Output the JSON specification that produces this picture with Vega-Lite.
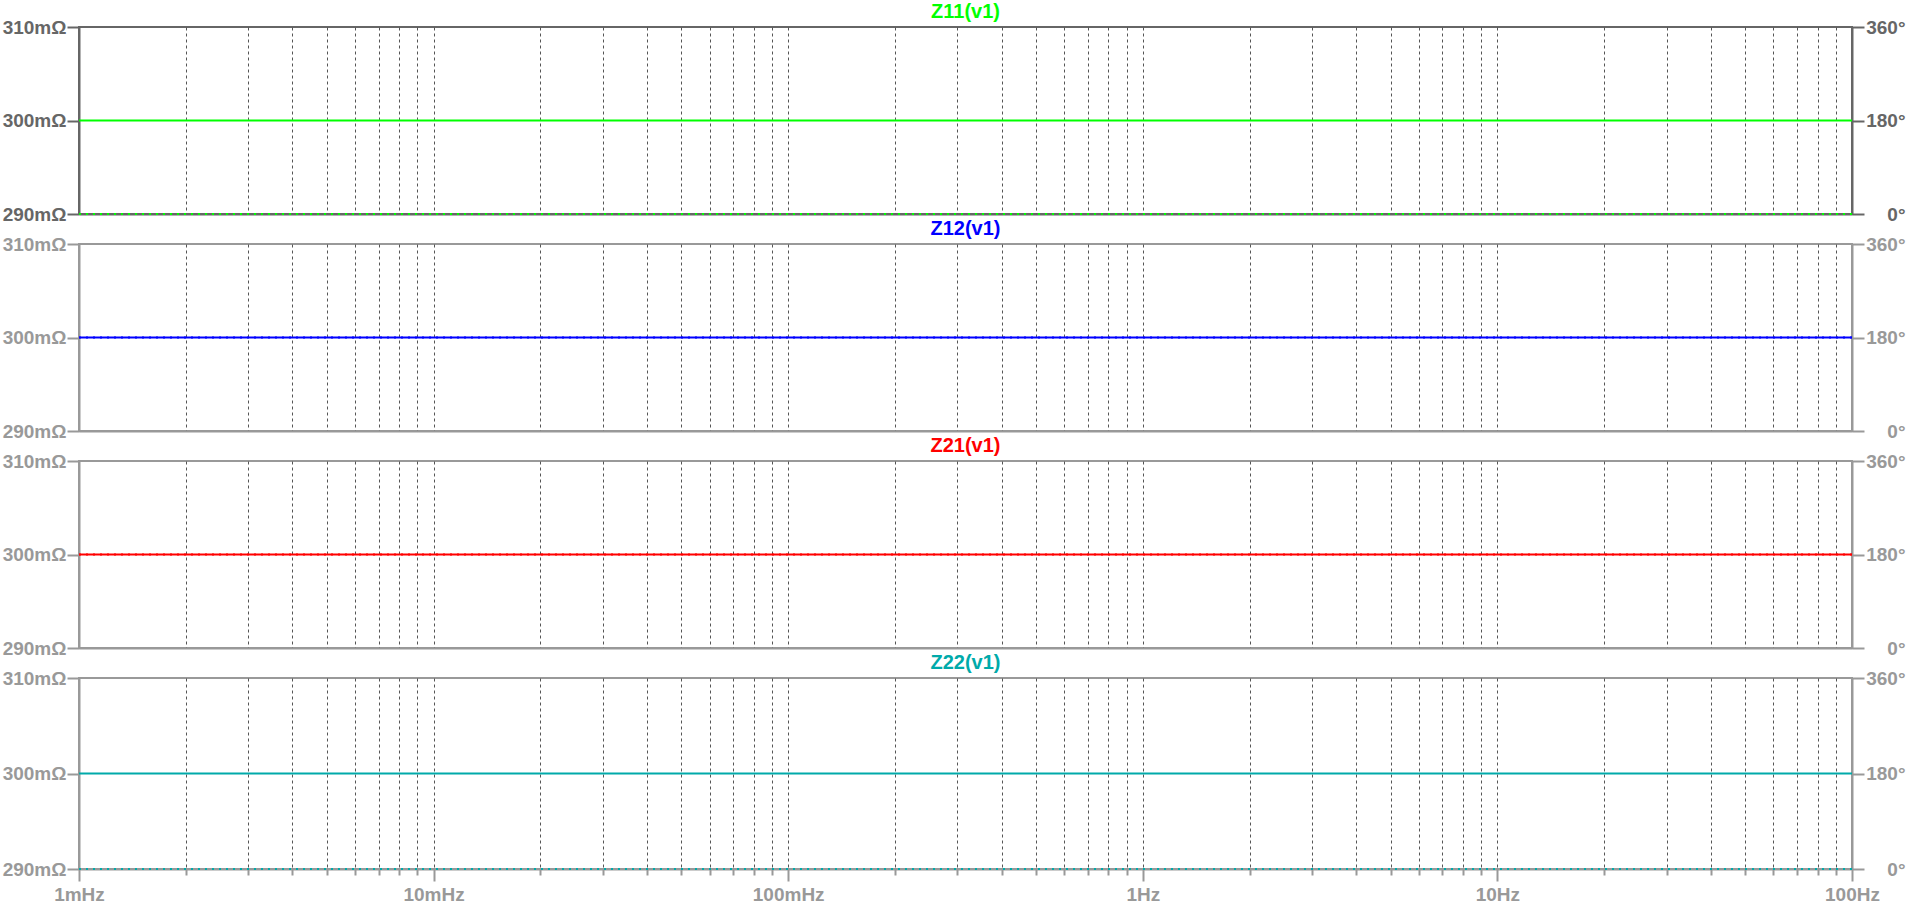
{
  "$schema": "https://vega.github.io/schema/vega-lite/v6.json",
  "padding": {"left": 1, "top": 1, "right": 0, "bottom": 0},
  "background": "white",
  "spacing": 30,
  "bounds": "flush",
  "datasets": {
    "z": [
      {"trace": "Z11(v1)", "freq": 0.001, "mag": 300, "phase": 0},
      {"trace": "Z11(v1)", "freq": 100, "mag": 300, "phase": 0},
      {"trace": "Z12(v1)", "freq": 0.001, "mag": 300, "phase": 180},
      {"trace": "Z12(v1)", "freq": 100, "mag": 300, "phase": 180},
      {"trace": "Z21(v1)", "freq": 0.001, "mag": 300, "phase": 180},
      {"trace": "Z21(v1)", "freq": 100, "mag": 300, "phase": 180},
      {"trace": "Z22(v1)", "freq": 0.001, "mag": 300, "phase": 0},
      {"trace": "Z22(v1)", "freq": 100, "mag": 300, "phase": 0}
    ]
  },
  "data": {"name": "z"},
  "config": {
    "axis": {
      "labelFont": "Liberation Sans",
      "labelFontWeight": "bold",
      "labelFontSize": 19,
      "labelColor": "#999999",
      "domainColor": "#999999",
      "domainWidth": 2,
      "tickColor": "#999999",
      "tickWidth": 2,
      "tickSize": 12,
      "labelPadding": 1,
      "labelFlush": false,
      "labelOverlap": false,
      "labelBound": false,
      "grid": false,
      "title": null
    },
    "view": {"stroke": "#999999", "strokeWidth": 2},
    "title": {"font": "Liberation Sans", "fontWeight": "bold", "fontSize": 20, "anchor": "middle", "frame": "group", "baseline": "alphabetic", "offset": -4}
  },
  "vconcat": [
    {
      "title": {"text": "Z11(v1)", "color": "#00ff00"},
      "width": 1773, "height": 187,
      "view": {"stroke": "#666666", "strokeWidth": 2},
      "transform": [{"filter": "datum.trace === 'Z11(v1)'"}],
      "encoding": {
        "x": {"field": "freq", "type": "quantitative",
          "scale": {"type": "log", "domain": [0.001, 100], "nice": false},
          "axis": {"values": [0.001,0.002,0.003,0.004,0.005,0.006,0.007,0.008,0.009,0.01,0.02,0.03,0.04,0.05,0.06,0.07,0.08,0.09,0.1,0.2,0.3,0.4,0.5,0.6,0.7,0.8,0.9,1,2,3,4,5,6,7,8,9,10,20,30,40,50,60,70,80,90,100],
            "labels": false, "ticks": false, "domainColor": "#666666", "grid": true, "gridColor": "#555555", "gridDash": [3,3], "gridWidth": 1,
            "gridOpacity": {"condition": {"test": "datum.value <= 0.0011 || datum.value >= 99", "value": 0}, "value": 1}}}
      },
      "layer": [
        {
          "mark": {"type": "line", "color": "#00ff00", "strokeWidth": 2},
          "encoding": {"y": {"field": "mag", "type": "quantitative", "scale": {"domain": [290, 310], "nice": false, "zero": false},
            "axis": {"orient": "left", "values": [290, 300, 310], "labelExpr": "datum.value + 'mΩ'", "labelColor": "#666666", "domainColor": "#666666", "tickColor": "#666666"}}}
        },
        {
          "mark": {"type": "line", "color": "#00ff00", "strokeWidth": 2, "strokeDash": [2, 5], "clip": false},
          "encoding": {"y": {"field": "phase", "type": "quantitative", "scale": {"domain": [0, 360], "nice": false},
            "axis": {"orient": "right", "values": [0, 180, 360], "labelExpr": "datum.value + '°'", "labelAlign": "right", "labelPadding": 41, "labelColor": "#666666", "domainColor": "#666666", "tickColor": "#666666"}}}
        }
      ],
      "resolve": {"scale": {"y": "independent"}}
    },
    {
      "title": {"text": "Z12(v1)", "color": "#0000ff"},
      "width": 1773, "height": 187,
      "transform": [{"filter": "datum.trace === 'Z12(v1)'"}],
      "encoding": {
        "x": {"field": "freq", "type": "quantitative",
          "scale": {"type": "log", "domain": [0.001, 100], "nice": false},
          "axis": {"values": [0.001,0.002,0.003,0.004,0.005,0.006,0.007,0.008,0.009,0.01,0.02,0.03,0.04,0.05,0.06,0.07,0.08,0.09,0.1,0.2,0.3,0.4,0.5,0.6,0.7,0.8,0.9,1,2,3,4,5,6,7,8,9,10,20,30,40,50,60,70,80,90,100],
            "labels": false, "ticks": false, "grid": true, "gridColor": "#555555", "gridDash": [3,3], "gridWidth": 1,
            "gridOpacity": {"condition": {"test": "datum.value <= 0.0011 || datum.value >= 99", "value": 0}, "value": 1}}}
      },
      "layer": [
        {
          "mark": {"type": "line", "color": "#0000ff", "strokeWidth": 2},
          "encoding": {"y": {"field": "mag", "type": "quantitative", "scale": {"domain": [290, 310], "nice": false, "zero": false},
            "axis": {"orient": "left", "values": [290, 300, 310], "labelExpr": "datum.value + 'mΩ'"}}}
        },
        {
          "mark": {"type": "line", "color": "#0000ff", "strokeWidth": 2, "strokeDash": [2, 5], "clip": false},
          "encoding": {"y": {"field": "phase", "type": "quantitative", "scale": {"domain": [0, 360], "nice": false},
            "axis": {"orient": "right", "values": [0, 180, 360], "labelExpr": "datum.value + '°'", "labelAlign": "right", "labelPadding": 41}}}
        }
      ],
      "resolve": {"scale": {"y": "independent"}}
    },
    {
      "title": {"text": "Z21(v1)", "color": "#ff0000"},
      "width": 1773, "height": 187,
      "transform": [{"filter": "datum.trace === 'Z21(v1)'"}],
      "encoding": {
        "x": {"field": "freq", "type": "quantitative",
          "scale": {"type": "log", "domain": [0.001, 100], "nice": false},
          "axis": {"values": [0.001,0.002,0.003,0.004,0.005,0.006,0.007,0.008,0.009,0.01,0.02,0.03,0.04,0.05,0.06,0.07,0.08,0.09,0.1,0.2,0.3,0.4,0.5,0.6,0.7,0.8,0.9,1,2,3,4,5,6,7,8,9,10,20,30,40,50,60,70,80,90,100],
            "labels": false, "ticks": false, "grid": true, "gridColor": "#555555", "gridDash": [3,3], "gridWidth": 1,
            "gridOpacity": {"condition": {"test": "datum.value <= 0.0011 || datum.value >= 99", "value": 0}, "value": 1}}}
      },
      "layer": [
        {
          "mark": {"type": "line", "color": "#ff0000", "strokeWidth": 2},
          "encoding": {"y": {"field": "mag", "type": "quantitative", "scale": {"domain": [290, 310], "nice": false, "zero": false},
            "axis": {"orient": "left", "values": [290, 300, 310], "labelExpr": "datum.value + 'mΩ'"}}}
        },
        {
          "mark": {"type": "line", "color": "#ff0000", "strokeWidth": 2, "strokeDash": [2, 5], "clip": false},
          "encoding": {"y": {"field": "phase", "type": "quantitative", "scale": {"domain": [0, 360], "nice": false},
            "axis": {"orient": "right", "values": [0, 180, 360], "labelExpr": "datum.value + '°'", "labelAlign": "right", "labelPadding": 41}}}
        }
      ],
      "resolve": {"scale": {"y": "independent"}}
    },
    {
      "title": {"text": "Z22(v1)", "color": "#00aaaa"},
      "width": 1773, "height": 191,
      "transform": [{"filter": "datum.trace === 'Z22(v1)'"}],
      "encoding": {
        "x": {"field": "freq", "type": "quantitative",
          "scale": {"type": "log", "domain": [0.001, 100], "nice": false},
          "axis": {"values": [0.001,0.002,0.003,0.004,0.005,0.006,0.007,0.008,0.009,0.01,0.02,0.03,0.04,0.05,0.06,0.07,0.08,0.09,0.1,0.2,0.3,0.4,0.5,0.6,0.7,0.8,0.9,1,2,3,4,5,6,7,8,9,10,20,30,40,50,60,70,80,90,100],
            "grid": true, "gridColor": "#555555", "gridDash": [3,3], "gridWidth": 1,
            "gridOpacity": {"condition": {"test": "datum.value <= 0.0011 || datum.value >= 99", "value": 0}, "value": 1},
            "tickSize": {"condition": {"test": "abs(log(datum.value)/LN10 - round(log(datum.value)/LN10)) < 0.000001", "value": 12}, "value": 6},
            "labelPadding": 4,
            "labelBaseline": "top",
            "labelExpr": "abs(log(datum.value)/LN10 - round(log(datum.value)/LN10)) < 0.000001 ? (datum.value < 1 ? round(datum.value * 1000) + 'mHz' : round(datum.value) + 'Hz') : ''"}}
      },
      "layer": [
        {
          "mark": {"type": "line", "color": "#00aaaa", "strokeWidth": 2},
          "encoding": {"y": {"field": "mag", "type": "quantitative", "scale": {"domain": [290, 310], "nice": false, "zero": false},
            "axis": {"orient": "left", "values": [290, 300, 310], "labelExpr": "datum.value + 'mΩ'"}}}
        },
        {
          "mark": {"type": "line", "color": "#00aaaa", "strokeWidth": 2, "strokeDash": [2, 5], "clip": false},
          "encoding": {"y": {"field": "phase", "type": "quantitative", "scale": {"domain": [0, 360], "nice": false},
            "axis": {"orient": "right", "values": [0, 180, 360], "labelExpr": "datum.value + '°'", "labelAlign": "right", "labelPadding": 41}}}
        }
      ],
      "resolve": {"scale": {"y": "independent"}}
    }
  ]
}
